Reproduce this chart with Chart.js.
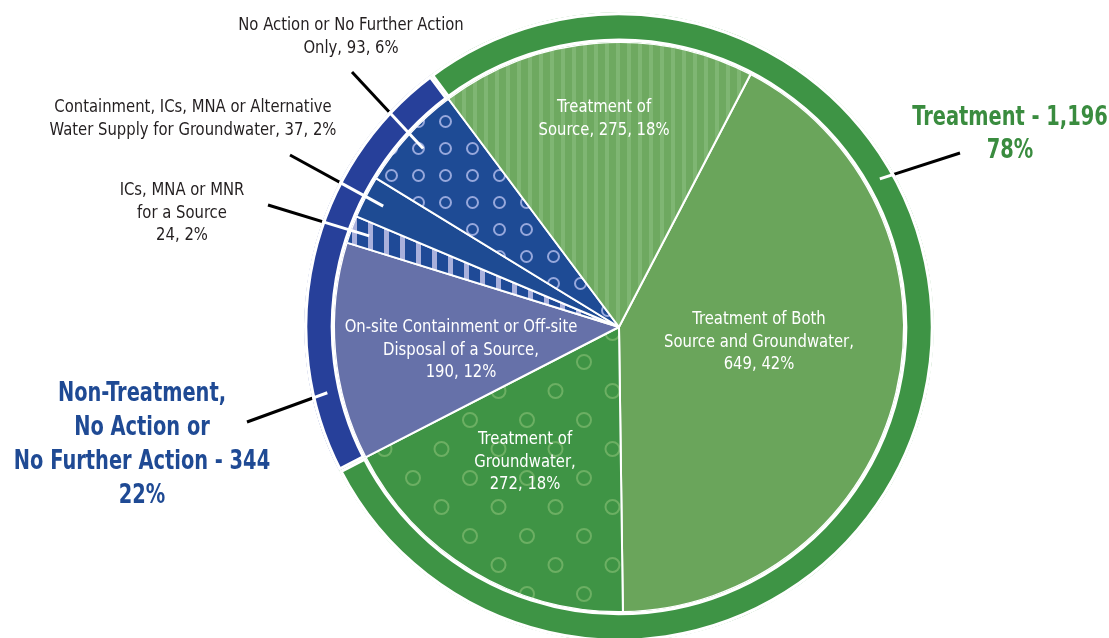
<!DOCTYPE html>
<html>
<head>
<meta charset="utf-8">
<script src="https://cdn.jsdelivr.net/npm/chart.js@4.4.1/dist/chart.umd.min.js"></script>
<style>
  html, body { margin: 0; padding: 0; background: #fff; overflow: hidden; }
  #wrap { width: 1109px; height: 650px; position: relative; }
</style>
</head>
<body>
<div id="wrap"><canvas id="remedyPie"></canvas></div>
<script>
// Remedy categories, clockwise starting with the big "Both" slice
const categories = [
    "Treatment of Both\nSource and Groundwater",
    "Treatment of\nGroundwater",
    "On-site Containment or Off-site\nDisposal of a Source",
    "ICs, MNA or MNR\nfor a Source",
    "Containment, ICs, MNA or Alternative\nWater Supply for Groundwater",
    "No Action or No Further Action\nOnly",
    "Treatment of\nSource"
];
const counts = [649, 272, 190, 24, 37, 93, 275];
const groupOf = ["T", "T", "N", "N", "N", "N", "T"];

// Outer ring groups
const groupKeys = ["N", "T"];
const groupNames = ["Non-Treatment,\nNo Action or\nNo Further Action", "Treatment"];

const total = counts.reduce((a, b) => a + b, 0);
const groupTotals = groupKeys.map(k => counts.reduce((s, v, i) => s + (groupOf[i] === k ? v : 0), 0));
const pct = v => Math.round(v / total * 100);

const PIE_ROTATION = 27.5;
const firstN = groupOf.indexOf("N");
const before = counts.slice(0, firstN).reduce((a, b) => a + b, 0);
const ringRotation = PIE_ROTATION + before / total * 360;

const FONT = "'Liberation Sans Narrow', 'DejaVu Sans Condensed', sans-serif";
const INK = "#231f20";

// label placement (canvas px)
const sliceLabelLayout = [
    { sep: ",\n", x: 759, y: 320, color: "#fff" },
    { sep: ",\n", x: 525, y: 440, color: "#fff" },
    { sep: ",\n", x: 461, y: 328, color: "#fff" },
    { sep: "\n", x: 182, y: 191, color: INK, leader: [268, 205], rIn: 266 },
    { sep: ", ", x: 193, y: 108, color: INK, leader: [290, 155], rIn: 265 },
    { sep: ", ", x: 351, y: 26, color: INK, leader: [352, 72], rIn: 265 },
    { sep: ", ", x: 604, y: 108, color: "#fff" }
];
const ringLabelLayout = [
    { x: 142, y: 394, lh: 34, color: "#1f4a94", leader: [247, 422], angle: 257.3, rIn: 299 },
    { x: 1010, y: 118, lh: 33, color: "#3a8c3f", leader: [960, 153], angle: 60.4, rIn: 300 }
];

const canvas = document.getElementById("remedyPie");
const ctx = canvas.getContext("2d");

function tile(w, h, draw) {
    const c = document.createElement("canvas");
    c.width = w; c.height = h;
    draw(c.getContext("2d"), w, h);
    return ctx.createPattern(c, "repeat");
}
function stripes(base, stripe, period, width) {
    return tile(period, 4, (g, w, h) => {
        g.fillStyle = base; g.fillRect(0, 0, w, h);
        g.fillStyle = stripe; g.fillRect(0, 0, width, h);
    });
}
function circles(base, color, w, h, r, lw, pts) {
    return tile(w, h, (g) => {
        g.fillStyle = base; g.fillRect(0, 0, w, h);
        g.strokeStyle = color; g.lineWidth = lw;
        pts.forEach(p => { g.beginPath(); g.arc(p[0], p[1], r, 0, Math.PI * 2); g.stroke(); });
    });
}

const sliceFills = [
    "#6aa55b",
    circles("#3f9445", "#6caf63", 57, 58, 7, 2, [[14, 14], [42.5, 43]]),
    "#6671a9",
    stripes("#1f4a97", "#a9b0dc", 16, 5),
    "#1e4b93",
    circles("#1e4b95", "#97a8dc", 27, 27, 5.5, 2, [[13.5, 13.5]]),
    stripes("#6ea960", "#7fb673", 11, 4)
];
const ringFills = ["#27409a", "#3e9445"];

function drawLines(g, text, x, y, lh, sx) {
    text.split("\n").forEach((ln, i) => {
        g.save();
        g.translate(x, y + i * lh);
        g.scale(sx, 1);
        g.fillText(ln, 0, 0);
        g.restore();
    });
}
function leader(g, cx, cy, R, x0, y0, x1, y1) {
    g.lineWidth = 3;
    g.lineCap = "butt";
    g.save();
    g.beginPath();
    g.rect(0, 0, g.canvas.width, g.canvas.height);
    g.arc(cx, cy, R, 0, Math.PI * 2);
    g.clip("evenodd");
    g.strokeStyle = "#000";
    g.beginPath(); g.moveTo(x0, y0); g.lineTo(x1, y1); g.stroke();
    g.restore();
    g.save();
    g.beginPath();
    g.arc(cx, cy, R, 0, Math.PI * 2);
    g.clip();
    g.strokeStyle = "#fff";
    g.beginPath(); g.moveTo(x0, y0); g.lineTo(x1, y1); g.stroke();
    g.restore();
}

const labelPlugin = {
    id: "remedyLabels",
    afterDatasetsDraw(chart) {
        const g = chart.ctx;
        const ringArcs = chart.getDatasetMeta(0).data;
        const pieArcs = chart.getDatasetMeta(1).data;
        const cx = ringArcs[0].x, cy = ringArcs[0].y;
        const R = ringArcs[0].outerRadius;

        // leader lines
        pieArcs.forEach((arc, i) => {
            const L = sliceLabelLayout[i];
            if (!L.leader) return;
            const mid = (arc.startAngle + arc.endAngle) / 2;
            leader(g, cx, cy, R, L.leader[0], L.leader[1],
                cx + L.rIn * Math.cos(mid), cy + L.rIn * Math.sin(mid));
        });
        ringLabelLayout.forEach(L => {
            const a = L.angle * Math.PI / 180;
            leader(g, cx, cy, R, L.leader[0], L.leader[1],
                cx + L.rIn * Math.sin(a), cy - L.rIn * Math.cos(a));
        });

        g.save();
        g.textAlign = "center";
        g.textBaseline = "middle";
        g.font = "17px " + FONT;
        counts.forEach((v, i) => {
            const L = sliceLabelLayout[i];
            g.fillStyle = L.color;
            drawLines(g, categories[i] + L.sep + v + ", " + pct(v) + "%", L.x, L.y, 22.5, 0.97);
        });
        g.font = "bold 26px " + FONT;
        groupTotals.forEach((v, k) => {
            const L = ringLabelLayout[k];
            g.fillStyle = L.color;
            drawLines(g, groupNames[k] + " - " + v.toLocaleString("en-US") + "\n" + pct(v) + "%", L.x, L.y, L.lh, 0.83);
        });
        g.restore();
    }
};

new Chart(ctx, {
    type: "pie",
    data: {
        labels: categories,
        datasets: [
            {
                data: groupTotals,
                backgroundColor: ringFills,
                borderColor: "#fff",
                borderWidth: 3,
                borderAlign: "inner",
                weight: 30,
                rotation: ringRotation,
                hoverOffset: 0
            },
            {
                data: counts,
                backgroundColor: sliceFills,
                borderColor: "#fff",
                borderWidth: 2,
                weight: 285,
                rotation: PIE_ROTATION,
                hoverOffset: 0
            }
        ]
    },
    options: {
        responsive: true,
        maintainAspectRatio: false,
        animation: false,
        events: [],
        rotation: PIE_ROTATION,
        layout: { padding: { left: 304, right: 175, top: 12, bottom: 8 } },
        plugins: {
            legend: { display: false },
            tooltip: { enabled: false }
        }
    },
    plugins: [labelPlugin]
});
</script>
</body>
</html>
